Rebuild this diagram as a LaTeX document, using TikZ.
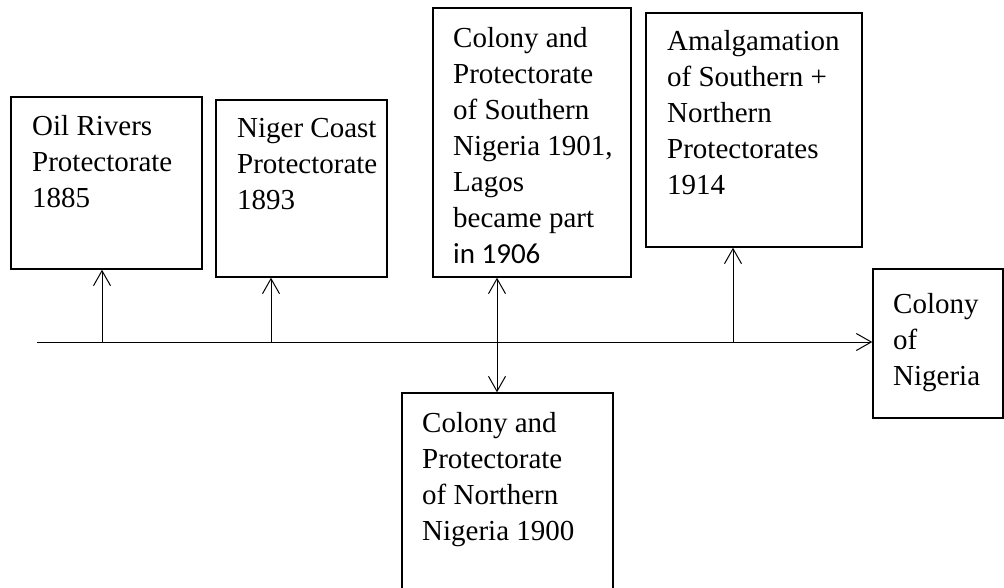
\documentclass[tikz,border=0pt]{standalone}
\usepackage{fontspec}
\setmainfont{Liberation Serif}
\newfontfamily\calib{Carlito}
\usetikzlibrary{arrows.meta}
\tikzset{
  box/.style={draw, line width=1.4pt, inner sep=0pt, minimum width=#1},
  txt/.style={anchor=north west, inner sep=0pt, align=left, font=\fontsize{29}{36}\selectfont},
  conn/.style={line width=1pt, -{Straight Barb[length=15pt,width=17pt,line width=1pt]}},
  dconn/.style={line width=1pt, {Straight Barb[length=15pt,width=17pt,line width=1pt]}-{Straight Barb[length=15pt,width=17pt,line width=1pt]}}
}
\begin{document}
\begin{tikzpicture}[x=1pt,y=-1pt]
\useasboundingbox (0,0) rectangle (1004,587);
\node[box=191pt, minimum height=172pt] (b1) at (106.5,183) {};
\node[box=171pt, minimum height=177pt] (b2) at (301.5,188.5) {};
\node[box=198pt, minimum height=269pt] (b3) at (532,142.5) {};
\node[box=216pt, minimum height=234pt] (b4) at (754,130) {};
\node[box=130pt, minimum height=149pt] (b5) at (938,343.5) {};
\node[box=211pt, minimum height=240pt] (b6) at (507.5,513) {};
% first-line baseline = y + 25.2 (strut height)
\node[txt] (t1) at (32,109.8) {\strut Oil Rivers\\Protectorate\\1885};
\node[txt] (t2) at (237,111.8) {\strut Niger Coast\\Protectorate\\1893};
\node[txt] (t3) at (453,21.8) {\strut Colony and\\Protectorate\\of Southern\\Nigeria 1901,\\Lagos\\became part\\{\calib in 1906}};
\node[txt] (t4) at (667,24.8) {\strut Amalgamation\\of Southern +\\Northern\\Protectorates\\1914};
\node[txt] (t5) at (893,287.8) {\strut Colony\\of\\Nigeria};
\node[txt] (t6) at (422,406.8) {\strut Colony and\\Protectorate\\of Northern\\Nigeria 1900};
\coordinate (start) at (37,342);
\coordinate (p1) at (102,342);
\coordinate (p2) at (271,342);
\coordinate (p3) at (497,342);
\coordinate (p4) at (733,342);
\draw[conn] (start) -- (start -| b5.west);
\draw[conn] (p1) -- (p1 |- b1.south);
\draw[conn] (p2) -- (p2 |- b2.south);
\draw[conn] (p4) -- (p4 |- b4.south);
\draw[dconn] (p3 |- b3.south) -- (p3 |- b6.north);
\end{tikzpicture}
\end{document}
